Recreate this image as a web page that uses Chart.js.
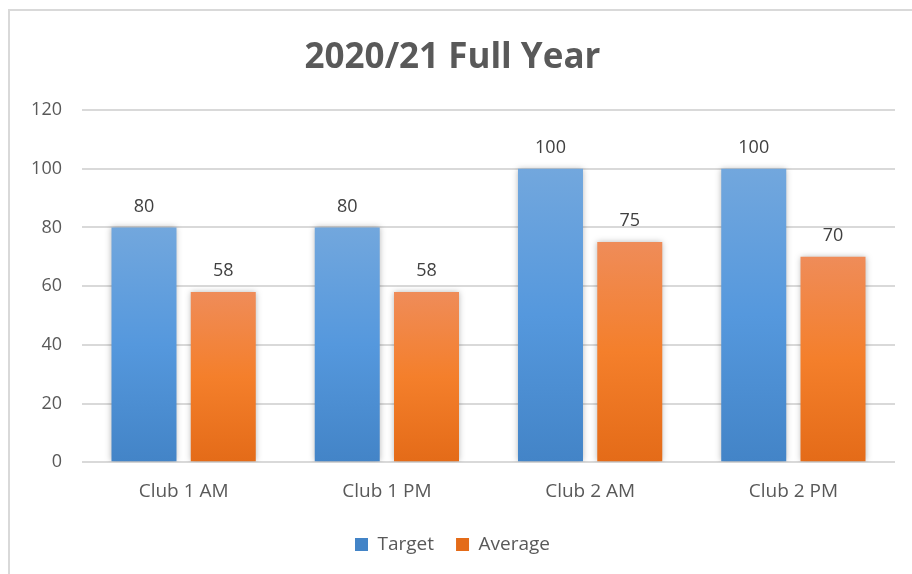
<!DOCTYPE html>
<html>
<head>
<meta charset="utf-8">
<script src="https://cdn.jsdelivr.net/npm/chart.js@4.4.1/dist/chart.umd.min.js"></script>
<style>
    html, body { margin: 0; padding: 0; background: #fff; }
    #wrap { position: relative; width: 912px; height: 574px; overflow: hidden; }
    #frame {
        position: absolute; left: 8px; top: 9px; width: 920px; height: 580px;
        border-top: 2px solid #d9d9d9; border-left: 2px solid #d9d9d9;
        pointer-events: none;
    }
    canvas { position: absolute; left: 0; top: 0; }
</style>
</head>
<body>
<div id="wrap">
    <canvas id="myChart" width="912" height="574"></canvas>
    <div id="frame"></div>
</div>
<script>
var categories = ['Club 1 AM', 'Club 1 PM', 'Club 2 AM', 'Club 2 PM'];
var targetValues = [80, 80, 100, 100];
var averageValues = [58, 58, 75, 70];
var yTicks = [0, 20, 40, 60, 80, 100, 120];

var FONT = "'Open Sans', 'Liberation Sans', sans-serif";

function barGradient(stops) {
    return function (context) {
        var chart = context.chart;
        var yScale = chart.scales && chart.scales.y;
        if (!chart.chartArea || !yScale || context.raw === undefined) {
            return stops[1];
        }
        var top = yScale.getPixelForValue(context.raw);
        var bottom = yScale.getPixelForValue(0);
        var g = chart.ctx.createLinearGradient(0, top, 0, bottom);
        g.addColorStop(0, stops[0]);
        g.addColorStop(0.5, stops[1]);
        g.addColorStop(1, stops[2]);
        return g;
    };
}

// soft shadow round the bars, like the spreadsheet render
var barShadow = {
    id: 'barShadow',
    beforeDatasetsDraw: function (chart) {
        var ctx = chart.ctx;
        ctx.save();
        ctx.shadowColor = 'rgba(0,0,0,0.28)';
        ctx.shadowBlur = 6;
        ctx.shadowOffsetX = 0;
        ctx.shadowOffsetY = 0;
    },
    afterDatasetsDraw: function (chart) {
        chart.ctx.restore();
    }
};

// value labels above each bar
var valueLabels = {
    id: 'valueLabels',
    afterDraw: function (chart) {
        var ctx = chart.ctx;
        ctx.save();
        ctx.font = '18px ' + FONT;
        ctx.fillStyle = '#404040';
        ctx.textAlign = 'center';
        ctx.textBaseline = 'bottom';
        chart.data.datasets.forEach(function (ds, i) {
            chart.getDatasetMeta(i).data.forEach(function (bar, j) {
                ctx.fillText(String(ds.data[j]), bar.x, bar.y - 12);
            });
        });
        ctx.restore();
    }
};

new Chart(document.getElementById('myChart'), {
    type: 'bar',
    data: {
        labels: categories,
        datasets: [
            {
                label: 'Target',
                data: targetValues,
                backgroundColor: barGradient(['#72a7dd', '#5598dd', '#4384c7']),
                borderWidth: 0,
                categoryPercentage: 0.78,
                barPercentage: 0.82
            },
            {
                label: 'Average',
                data: averageValues,
                backgroundColor: barGradient(['#ef8c59', '#f47f2b', '#e46b18']),
                borderWidth: 0,
                categoryPercentage: 0.78,
                barPercentage: 0.82
            }
        ]
    },
    plugins: [barShadow, valueLabels],
    options: {
        responsive: false,
        animation: false,
        devicePixelRatio: 1,
        layout: {
            padding: { left: 10, right: 17, top: 20, bottom: 10 }
        },
        scales: {
            x: {
                grid: { display: false },
                border: { display: false },
                ticks: {
                    color: '#595959',
                    font: { family: FONT, size: 19 },
                    padding: 10
                }
            },
            y: {
                min: 0,
                max: 120,
                afterBuildTicks: function (scale) {
                    scale.ticks = yTicks.map(function (v) { return { value: v }; });
                },
                afterFit: function (scale) {
                    scale.width = 72;
                },
                grid: { color: '#d9d9d9', lineWidth: 2, drawTicks: false },
                border: { display: false },
                ticks: {
                    color: '#595959',
                    font: { family: FONT, size: 18 },
                    padding: 20
                }
            }
        },
        plugins: {
            title: {
                display: true,
                text: '2020/21 Full Year',
                color: '#595959',
                font: { family: FONT, size: 35, weight: 'bold' },
                padding: { top: 17, bottom: 31 }
            },
            legend: {
                position: 'bottom',
                labels: {
                    color: '#595959',
                    font: { family: FONT, size: 19 },
                    boxWidth: 13,
                    boxHeight: 13,
                    padding: 22
                }
            },
            tooltip: { enabled: false }
        }
    }
});
</script>
</body>
</html>
